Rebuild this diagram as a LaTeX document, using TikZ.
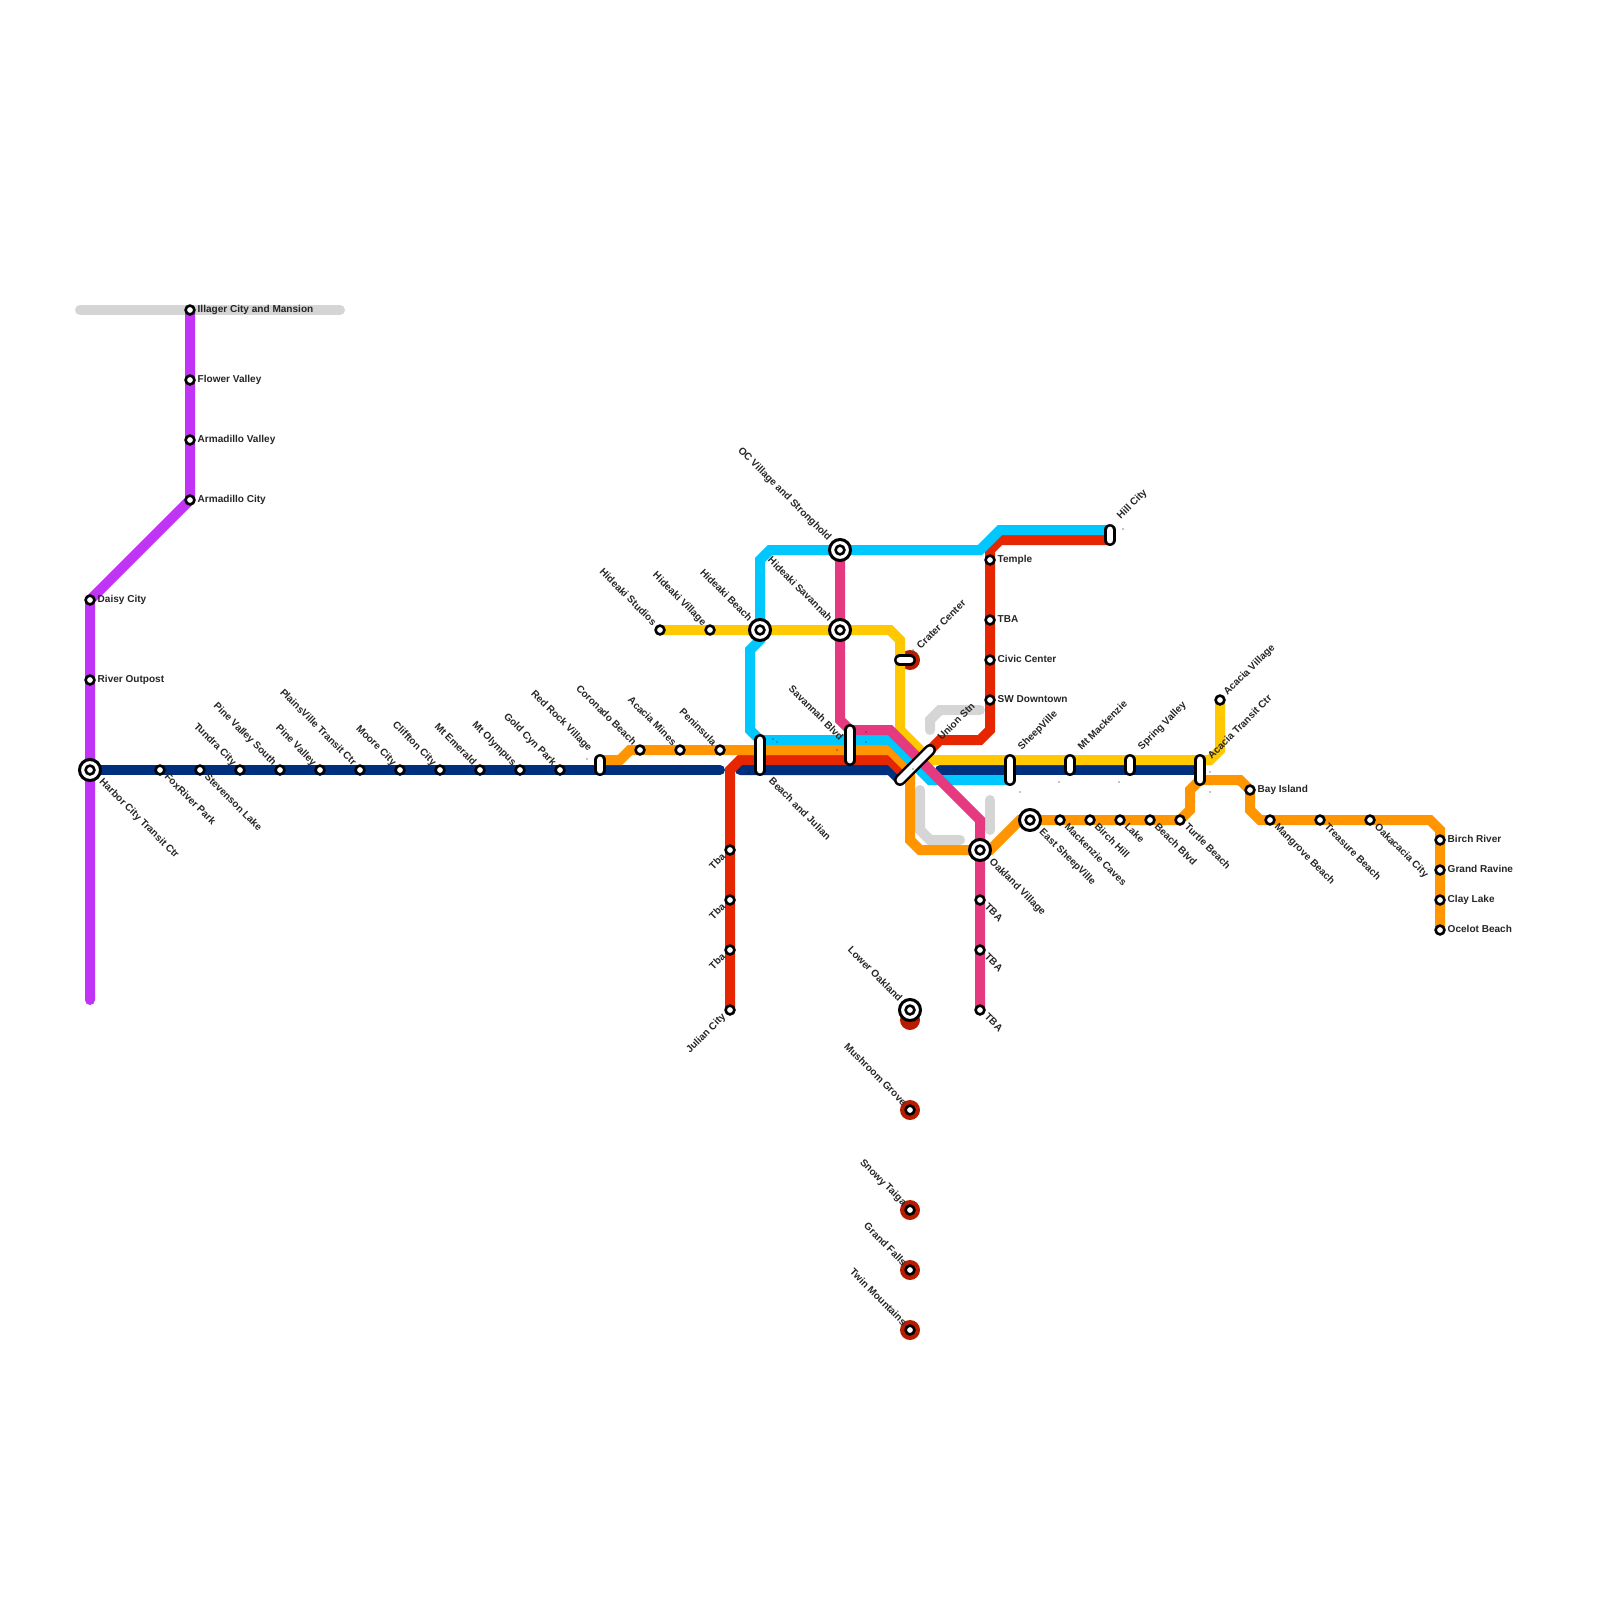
\documentclass[tikz,border=0pt]{standalone}
\usepackage{fontspec}
\setmainfont{Liberation Sans}
\usetikzlibrary{positioning}
\definecolor{navyline}{HTML}{002F7D}
\definecolor{redline}{HTML}{E62600}
\definecolor{orangeline}{HTML}{FF9500}
\definecolor{yellowline}{HTML}{FFC800}
\definecolor{cyanline}{HTML}{00C8FF}
\definecolor{pinkline}{HTML}{E63A80}
\definecolor{purpleline}{HTML}{C234F5}
\definecolor{greyline}{HTML}{D5D5D5}
\definecolor{ringred}{HTML}{B81C00}
\pgfdeclarelayer{lines}
\pgfsetlayers{lines,main}
\tikzset{
  route/.style={line width=10pt, line cap=round, line join=miter},
  stn/.style={circle, draw=black, fill=white, line width=2.6pt, minimum size=8.8pt, inner sep=0pt, outer sep=0pt},
  hub/.style={circle, draw=black, fill=white, line width=3pt, minimum size=21pt, inner sep=0pt, outer sep=0pt},
  ring/.style={circle, fill=ringred, minimum size=20pt, inner sep=0pt, outer sep=0pt},
  bar/.style={line width=2.5pt, double=white, double distance=6.8pt, line cap=round, draw=black},
  lbl/.style={font=\fontsize{10.05}{11}\bfseries\selectfont, text=black!85, inner ysep=0pt, text height=7pt, text depth=2pt},
  lble/.style={lbl, anchor=west, inner xsep=#1},
  lble/.default=7.5pt,
  lblne/.style={lbl, anchor=west, rotate=45, inner xsep=#1},
  lblne/.default=8pt,
  lblse/.style={lbl, anchor=west, rotate=-45, inner xsep=#1},
  lblse/.default=8pt,
  lblnw/.style={lbl, anchor=east, rotate=-45, inner xsep=#1},
  lblnw/.default=8pt,
  lblsw/.style={lbl, anchor=east, rotate=45, inner xsep=#1},
  lblsw/.default=8pt,
}
\begin{document}
\begin{tikzpicture}[x=1pt, y=-1pt]

  \useasboundingbox (0,0) rectangle (1600,1600);

  % purple line stations
  \node[stn] (illager) at (190,310) {};
  \node[stn] (flower) at (190,380) {};
  \node[stn] (armvalley) at (190,440) {};
  \node[stn] (armcity) at (190,500) {};
  \node[stn] (daisy) at (90,600) {};
  \node[stn] (outpost) at (90,680) {};
  \node[hub] (harbor) at (90,770) {};
  \node[stn] (harborin) at (harbor) {};
  \coordinate (purpleend) at (90,1000);

  % navy line stations
  \node[stn] (foxriver) at (160,770) {};
  \node[stn] (stevenson) at (200,770) {};
  \node[stn] (tundra) at (240,770) {};
  \node[stn] (pinesouth) at (280,770) {};
  \node[stn] (pinevalley) at (320,770) {};
  \node[stn] (plainsville) at (360,770) {};
  \node[stn] (moore) at (400,770) {};
  \node[stn] (cliffton) at (440,770) {};
  \node[stn] (emerald) at (480,770) {};
  \node[stn] (olympus) at (520,770) {};
  \node[stn] (goldcyn) at (560,770) {};

  % orange line stations
  \node[stn] (coronado) at (640,750) {};
  \node[stn] (acaciamines) at (680,750) {};
  \node[stn] (peninsula) at (720,750) {};
  \node[hub] (oakland) at (980,850) {};
  \node[stn] (oaklandin) at (oakland) {};
  \node[hub] (eastsheep) at (1030,820) {};
  \node[stn] (eastsheepin) at (eastsheep) {};
  \node[stn] (caves) at (1060,820) {};
  \node[stn] (birchhill) at (1090,820) {};
  \node[stn] (lake) at (1120,820) {};
  \node[stn] (beachblvd) at (1150,820) {};
  \node[stn] (turtle) at (1180,820) {};
  \node[stn] (bayisland) at (1250,790) {};
  \node[stn] (mangrove) at (1270,820) {};
  \node[stn] (treasure) at (1320,820) {};
  \node[stn] (oakacacia) at (1370,820) {};
  \node[stn] (birchriver) at (1440,840) {};
  \node[stn] (ravine) at (1440,870) {};
  \node[stn] (claylake) at (1440,900) {};
  \node[stn] (ocelot) at (1440,930) {};

  % yellow line stations
  \node[stn] (studios) at (660,630) {};
  \node[stn] (hidvillage) at (710,630) {};
  \node[hub] (hidbeach) at (760,630) {};
  \node[stn] (hidbeachin) at (hidbeach) {};
  \node[hub] (hidsavannah) at (840,630) {};
  \node[stn] (hidsavannahin) at (hidsavannah) {};
  \node[stn] (acaciavillage) at (1220,700) {};

  % cyan and pink stations
  \node[hub] (ocvillage) at (840,550) {};
  \node[stn] (ocvillagein) at (ocvillage) {};
  \node[stn] (tbapinka) at (980,900) {};
  \node[stn] (tbapinkb) at (980,950) {};
  \node[stn] (tbapinkc) at (980,1010) {};

  % red line stations
  \node[stn] (tbaa) at (730,850) {};
  \node[stn] (tbab) at (730,900) {};
  \node[stn] (tbac) at (730,950) {};
  \node[stn] (julian) at (730,1010) {};
  \node[stn] (temple) at (990,560) {};
  \node[stn] (tbared) at (990,620) {};
  \node[stn] (civic) at (990,660) {};
  \node[stn] (swdown) at (990,700) {};

  % dark red line, only stops
  \node[hub] (lower) at (910,1010) {};
  \node[stn] (lowerin) at (lower) {};
  \node[stn] (mushroom) at (910,1110) {};
  \node[stn] (snowy) at (910,1210) {};
  \node[stn] (grandfalls) at (910,1270) {};
  \node[stn] (twin) at (910,1330) {};

  % all the routes go below the stations
  \begin{pgfonlayer}{lines}
    \draw[route, greyline] (80,310) -- (340,310);
    \draw[route, greyline] (930,730) -- (930,720) -- (940,710) -- (980,710);
    \draw[route, greyline] (920,790) -- (920,830) -- (930,840) -- (960,840);
    \draw[route, greyline] (990,800) -- (990,830);

    \node[ring] (craterring) at (910,660) {};
    \node[ring] (lowerring) at (910,1020) {};
    \node[ring] (mushroomring) at (mushroom) {};
    \node[ring] (snowyring) at (snowy) {};
    \node[ring] (fallsring) at (grandfalls) {};
    \node[ring] (twinring) at (twin) {};

    \draw[route, purpleline] (illager.center) -- (armcity.center) -- (daisy.center) -- (purpleend);

    \draw[route, navyline] (harbor.center) -- (720,770);
    \draw[route, navyline] (740,770) -- (890,770) -- (900,780);
    \draw[route, navyline] (940,770) -- (1200,770);

    \draw[route, yellowline] (studios.center) -- (890,630) -- (900,640) -- (900,730) -- (930,760)
      -- (1210,760) -- (1220,750) -- (acaciavillage.center);

    \draw[route, redline] (julian.center) -- (730,770) -- (740,760) -- (890,760) -- (905,775);
    \draw[route, redline] (915,765) -- (940,740) -- (980,740) -- (990,730) -- (990,550)
      -- (1000,540) -- (1110,540);

    \draw[route, orangeline] (600,760) -- (620,760) -- (630,750) -- (890,750) -- (910,770)
      -- (910,840) -- (920,850) -- (990,850) -- (1020,820) -- (turtle.center)
      -- (1190,810) -- (1190,790) -- (1200,780) -- (1240,780) -- (1250,790) -- (1250,810)
      -- (1260,820) -- (1430,820) -- (1440,830) -- (ocelot.center);

    \draw[route, cyanline] (1110,530) -- (1000,530) -- (980,550) -- (770,550) -- (760,560)
      -- (760,640) -- (750,650) -- (750,730) -- (760,740) -- (890,740) -- (930,780) -- (1010,780);

    \draw[route, pinkline] (ocvillage.center) -- (840,720) -- (850,730) -- (890,730) -- (980,820)
      -- (tbapinkc.center);
  \end{pgfonlayer}

  % interchange bars
  \draw[bar] (600,760) -- (600,770);
  \draw[bar] (760,740) -- (760,770);
  \draw[bar] (850,730) -- (850,760);
  \draw[bar] (900,660) -- (910,660);
  \draw[bar] (900,780) -- (930,750);
  \draw[bar] (1010,760) -- (1010,780);
  \draw[bar] (1070,760) -- (1070,770);
  \draw[bar] (1130,760) -- (1130,770);
  \draw[bar] (1200,760) -- (1200,780);
  \draw[bar] (1110,530) -- (1110,540);

  % tiny leftover dots
  \fill (773,739) circle(.7pt) (777,742) circle(.7pt) (866,732) circle(.7pt) (866,742) circle(.7pt)
    (837,750) circle(.7pt) (749,773) circle(.7pt) (913,769) circle(.7pt) (913,650) circle(.7pt)
    (1020,792) circle(.7pt) (1123,529) circle(.7pt) (1059,782) circle(.7pt) (1119,782) circle(.7pt)
    (1210,772) circle(.7pt) (1210,792) circle(.7pt) (587,759) circle(.7pt);

  % labels to the right
  \node[lble] (illagerlbl) at (illager) {Illager City and Mansion};
  \node[lble] (flowerlbl) at (flower) {Flower Valley};
  \node[lble] (armvalleylbl) at (armvalley) {Armadillo Valley};
  \node[lble] (armcitylbl) at (armcity) {Armadillo City};
  \node[lble] (daisylbl) at (daisy) {Daisy City};
  \node[lble] (outpostlbl) at (outpost) {River Outpost};
  \node[lble] (templelbl) at (temple) {Temple};
  \node[lble] (tbaredlbl) at (tbared) {TBA};
  \node[lble] (civiclbl) at (civic) {Civic Center};
  \node[lble] (swdownlbl) at (swdown) {SW Downtown};
  \node[lble] (baylbl) at (bayisland) {Bay Island};
  \node[lble] (birchriverlbl) at (birchriver) {Birch River};
  \node[lble] (ravinelbl) at (ravine) {Grand Ravine};
  \node[lble] (claylbl) at (claylake) {Clay Lake};
  \node[lble] (ocelotlbl) at (ocelot) {Ocelot Beach};

  % labels going down right
  \node[lblse=15pt] (harborlbl) at (harbor) {Harbor City Transit Ctr};
  \node[lblse] (foxlbl) at (foxriver) {FoxRiver Park};
  \node[lblse] (stevensonlbl) at (stevenson) {Stevenson Lake};
  \node[lblse=0pt] (beachjulianlbl) at (770,780) {Beach and Julian};
  \node[lblse=15pt] (oaklandlbl) at (oakland) {Oakland Village};
  \node[lblse] (tbaalbl) at (tbapinka) {TBA};
  \node[lblse] (tbablbl) at (tbapinkb) {TBA};
  \node[lblse] (tbaclbl) at (tbapinkc) {TBA};
  \node[lblse=15pt] (eastsheeplbl) at (eastsheep) {East SheepVille};
  \node[lblse] (caveslbl) at (caves) {Mackenzie Caves};
  \node[lblse] (birchhilllbl) at (birchhill) {Birch Hill};
  \node[lblse] (lakelbl) at (lake) {Lake};
  \node[lblse] (beachblvdlbl) at (beachblvd) {Beach Blvd};
  \node[lblse] (turtlelbl) at (turtle) {Turtle Beach};
  \node[lblse] (mangrovelbl) at (mangrove) {Mangrove Beach};
  \node[lblse] (treasurelbl) at (treasure) {Treasure Beach};
  \node[lblse] (oakacacialbl) at (oakacacia) {Oakacacia City};

  % labels going up left
  \node[lblnw] (tundralbl) at (tundra) {Tundra City};
  \node[lblnw] (pinesouthlbl) at (pinesouth) {Pine Valley South};
  \node[lblnw] (pinevalleylbl) at (pinevalley) {Pine Valley};
  \node[lblnw] (plainslbl) at (plainsville) {PlainsVille Transit Ctr};
  \node[lblnw] (moorelbl) at (moore) {Moore City};
  \node[lblnw] (clifftonlbl) at (cliffton) {Cliffton City};
  \node[lblnw] (emeraldlbl) at (emerald) {Mt Emerald};
  \node[lblnw] (olympuslbl) at (olympus) {Mt Olympus};
  \node[lblnw] (goldcynlbl) at (goldcyn) {Gold Cyn Park};
  \node[lblnw=0pt] (redrocklbl) at (590,750) {Red Rock Village};
  \node[lblnw] (coronadolbl) at (coronado) {Coronado Beach};
  \node[lblnw] (acaciamineslbl) at (acaciamines) {Acacia Mines};
  \node[lblnw] (peninsulalbl) at (peninsula) {Peninsula};
  \node[lblnw] (studioslbl) at (studios) {Hideaki Studios};
  \node[lblnw] (hidvillagelbl) at (hidvillage) {Hideaki Village};
  \node[lblnw=14pt] (hidbeachlbl) at (hidbeach) {Hideaki Beach};
  \node[lblnw=14pt] (hidsavannahlbl) at (hidsavannah) {Hideaki Savannah};
  \node[lblnw=15pt] (ocvillagelbl) at (ocvillage) {OC Village and Stronghold};
  \node[lblnw=0pt] (savannahlbl) at (841,739) {Savannah Blvd};
  \node[lblnw=14pt] (lowerlbl) at (lower) {Lower Oakland};
  \node[lblnw] (mushroomlbl) at (mushroom) {Mushroom Grove};
  \node[lblnw] (snowylbl) at (snowy) {Snowy Taiga};
  \node[lblnw] (fallslbl) at (grandfalls) {Grand Falls};
  \node[lblnw] (twinlbl) at (twin) {Twin Mountains};

  % labels going up right
  \node[lblne=0pt] (craterlbl) at (919,648) {Crater Center};
  \node[lblne=0pt] (unionlbl) at (940,739) {Union Stn};
  \node[lblne=0pt] (sheepvillelbl) at (1020,749) {SheepVille};
  \node[lblne=0pt] (mackenzielbl) at (1080,749) {Mt Mackenzie};
  \node[lblne=0pt] (springlbl) at (1140,749) {Spring Valley};
  \node[lblne=0pt] (transitlbl) at (1210,758) {Acacia Transit Ctr};
  \node[lblne=0pt] (hilllbl) at (1119,518) {Hill City};
  \node[lblne] (acaciavillagelbl) at (acaciavillage) {Acacia Village};

  % labels going down left
  \node[lblsw] (tbaalftlbl) at (tbaa) {Tba};
  \node[lblsw] (tbablftlbl) at (tbab) {Tba};
  \node[lblsw] (tbaclftlbl) at (tbac) {Tba};
  \node[lblsw] (julianlbl) at (julian) {Julian City};

\end{tikzpicture}
\end{document}
